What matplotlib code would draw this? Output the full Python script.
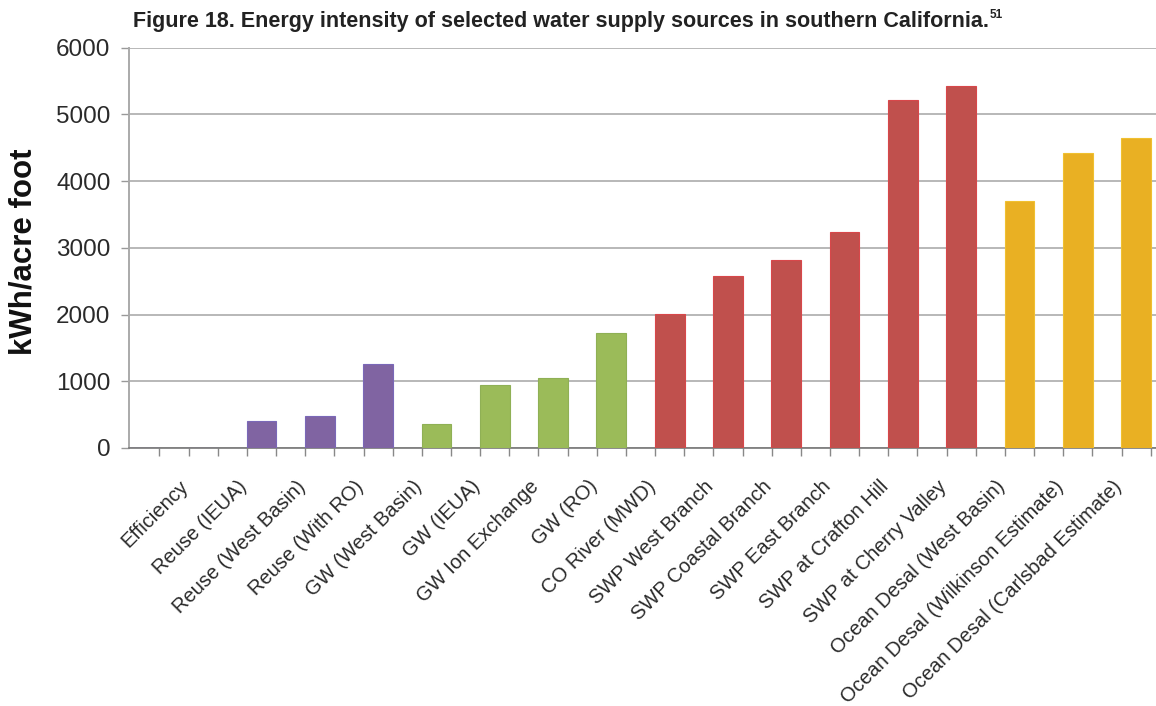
import matplotlib
matplotlib.use("Agg")
import matplotlib.pyplot as plt
import matplotlib.transforms as mtransforms
import numpy as np

plt.rcParams['font.family'] = ['Liberation Sans', 'DejaVu Sans']

# Category labels along the x axis (one slot more than labels at the right end)
labels = [
    "Efficiency", "Reuse (IEUA)", "Reuse (West Basin)", "Reuse (With RO)",
    "GW (West Basin)", "GW (IEUA)", "GW Ion Exchange", "GW (RO)",
    "CO River (MWD)", "SWP West Branch", "SWP Coastal Branch",
    "SWP East Branch", "SWP at Crafton Hill", "SWP at Cherry Valley",
    "Ocean Desal (West Basin)", "Ocean Desal (Wilkinson Estimate)",
    "Ocean Desal (Carlsbad Estimate)",
]

# Energy intensity, kWh per acre foot, one value per slot
values = [0, 0, 410, 480, 1260, 355, 940, 1055, 1725,
          2005, 2580, 2820, 3235, 5215, 5430, 3705, 4420, 4650]

# Source group of each slot
groups = ["none", "none", "reuse", "reuse", "reuse",
          "gw", "gw", "gw", "gw",
          "import", "import", "import", "import", "import", "import",
          "desal", "desal", "desal"]

group_colors = {
    "none": "#8064A2",
    "reuse": "#8064A2",
    "gw": "#9BBB59",
    "import": "#C0504D",
    "desal": "#E9B023",
}
group_edges = {
    "none": "#7A68B8",
    "reuse": "#7A68B8",
    "gw": "#8FB055",
    "import": "#D8474A",
    "desal": "#F0C030",
}

y_ticks = [0, 1000, 2000, 3000, 4000, 5000, 6000]

W, H = 1156, 706
fig = plt.figure(figsize=(W / 100, H / 100), dpi=100)
ax = fig.add_axes([128.5 / W, 1 - 448 / H, (W - 128.5) / W, (448 - 47.5) / H])

x = np.arange(len(values))
bar_colors = [group_colors[g] for g in groups]
edge_colors = [group_edges[g] for g in groups]
ax.bar(x, values, width=0.51, color=bar_colors, edgecolor=edge_colors,
       linewidth=0.8, zorder=3)

ax.set_xlim(-0.28, 17.34)
ax.set_ylim(0, 6000)
ax.set_yticks(y_ticks)
ax.set_yticklabels([str(v) for v in y_ticks], fontsize=17.5, color="#2a2a2a")
ax.yaxis.grid(True, color="#b8b8b8", linewidth=1.4, zorder=0)
ax.set_axisbelow(True)

# tick marks sit on every bar edge
edge_ticks = np.arange(0.25, 17.3, 0.5)
ax.set_xticks(edge_ticks)
ax.set_xticklabels([])
ax.tick_params(axis="x", direction="out", length=6, width=1.0, color="#888888")
ax.tick_params(axis="y", direction="out", length=6, width=1.0, color="#999999",
               pad=7)

for side in ("top", "right"):
    ax.spines[side].set_visible(False)
ax.spines["left"].set_color("#aaaaaa")
ax.spines["left"].set_linewidth(1.4)
ax.spines["bottom"].set_color("#777777")
ax.spines["bottom"].set_linewidth(1.2)

# rotated category labels
trans = mtransforms.blended_transform_factory(ax.transData, ax.transAxes)
for i, lab in enumerate(labels):
    ax.text(i + 0.59, -0.072, lab, transform=trans, rotation=45,
            rotation_mode="anchor", ha="right", va="top",
            fontsize=14.5, color="#2a2a2a")

# axis title
fig.text(24 / W, 1 - 252 / H, "kWh/acre foot", rotation=90, ha="center",
         va="center", fontsize=22.5, fontweight="bold", color="#111111")

# figure title with superscript note number
title = fig.text(133 / W, 1 - 27 / H,
                 "Figure 18. Energy intensity of selected water supply sources in southern California.",
                 ha="left", va="baseline", fontsize=15.5, fontweight="bold",
                 color="#222222")
fig.canvas.draw()
bb = title.get_window_extent(fig.canvas.get_renderer())
fig.text(bb.x1 / W + 1 / W, 1 - 18 / H, "51", ha="left", va="baseline",
         fontsize=8.5, fontweight="bold", color="#222222")

fig.savefig("out.png", dpi=100)
